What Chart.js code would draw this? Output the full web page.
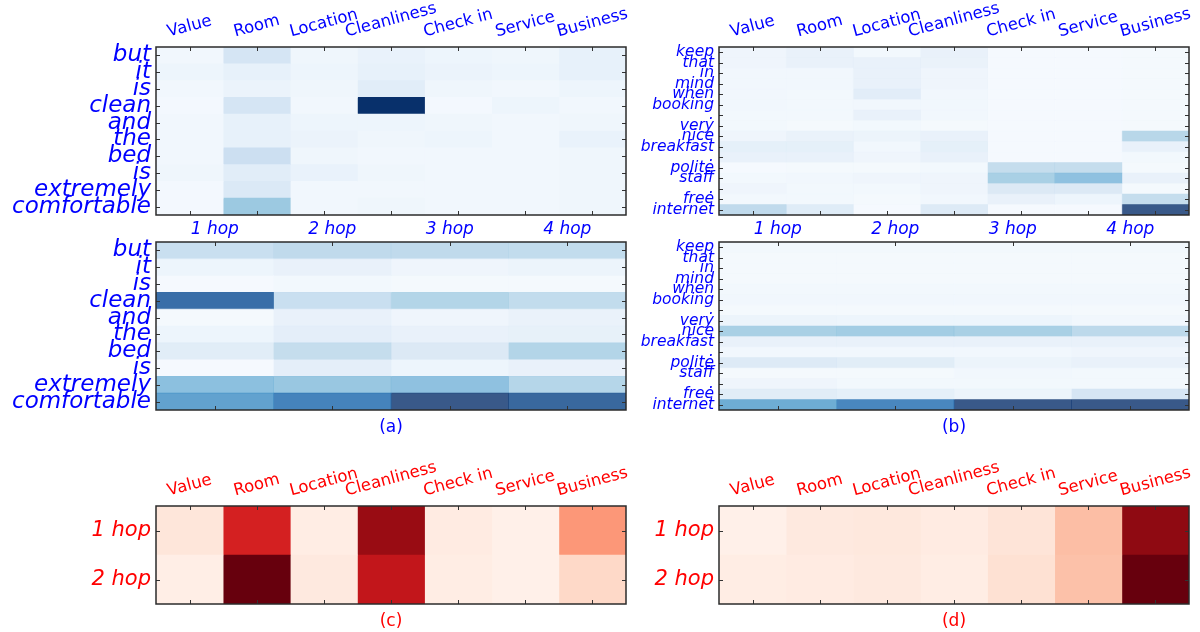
<!DOCTYPE html>
<html>
<head>
<meta charset="utf-8">
<script src="https://cdn.jsdelivr.net/npm/chart.js@4.4.1/dist/chart.umd.min.js"></script>
<style>
  body { margin: 0; background: #fff; }
  #wrap { position: relative; width: 1200px; height: 632px; }
  #wrap canvas { position: absolute; left: 0; top: 0; }
</style>
</head>
<body>
<div id="wrap">
  <canvas id="aspectA" width="1200" height="632"></canvas>
  <canvas id="hopA" width="1200" height="632"></canvas>
  <canvas id="aspectB" width="1200" height="632"></canvas>
  <canvas id="hopB" width="1200" height="632"></canvas>
  <canvas id="scoreC" width="1200" height="632"></canvas>
  <canvas id="scoreD" width="1200" height="632"></canvas>
</div>
<script>
// categories
var aspects = ['Value', 'Room', 'Location', 'Cleanliness', 'Check in', 'Service', 'Business'];
var hops = ['1 hop', '2 hop', '3 hop', '4 hop'];
var hopRows = ['1 hop', '2 hop'];
var sentenceA = ['but', 'it', 'is', 'clean', 'and', 'the', 'bed', 'is', 'extremely', 'comfortable'];
var sentenceB = ['keep', 'that', 'in', 'mind', 'when', 'booking', '.', 'very', 'nice', 'breakfast', '.',
                 'polite', 'staff', '.', 'free', 'internet'];

// (a) word attention per aspect, rows = words of sentenceA
var aspectAttnA = [
  [0.03, 0.17, 0.04, 0.07, 0.05, 0.04, 0.08],
  [0.05, 0.08, 0.05, 0.08, 0.06, 0.05, 0.08],
  [0.03, 0.06, 0.04, 0.11, 0.04, 0.03, 0.05],
  [0.02, 0.17, 0.03, 1.00, 0.02, 0.05, 0.03],
  [0.03, 0.08, 0.05, 0.05, 0.04, 0.03, 0.04],
  [0.03, 0.08, 0.06, 0.04, 0.05, 0.03, 0.07],
  [0.03, 0.22, 0.04, 0.03, 0.03, 0.03, 0.04],
  [0.04, 0.11, 0.07, 0.04, 0.03, 0.03, 0.04],
  [0.02, 0.14, 0.03, 0.03, 0.03, 0.03, 0.04],
  [0.02, 0.38, 0.03, 0.04, 0.03, 0.03, 0.04]
];
// (a) word attention per hop
var hopAttnA = [
  [0.28, 0.32, 0.32, 0.31],
  [0.07, 0.10, 0.06, 0.08],
  [0.02, 0.04, 0.03, 0.03],
  [0.90, 0.28, 0.37, 0.31],
  [0.03, 0.10, 0.06, 0.09],
  [0.07, 0.13, 0.10, 0.11],
  [0.15, 0.30, 0.18, 0.37],
  [0.02, 0.13, 0.07, 0.10],
  [0.49, 0.45, 0.48, 0.36],
  [0.65, 0.80, 1.00, 0.93]
];
// (b) word attention per aspect, rows = words of sentenceB
var aspectAttnB = [
  [0.06, 0.10, 0.04, 0.10, 0.02, 0.02, 0.03],
  [0.06, 0.10, 0.10, 0.09, 0.02, 0.02, 0.03],
  [0.05, 0.05, 0.10, 0.06, 0.02, 0.02, 0.03],
  [0.05, 0.05, 0.10, 0.06, 0.02, 0.02, 0.03],
  [0.05, 0.04, 0.14, 0.05, 0.02, 0.02, 0.03],
  [0.05, 0.04, 0.05, 0.05, 0.02, 0.02, 0.03],
  [0.04, 0.04, 0.10, 0.05, 0.02, 0.02, 0.03],
  [0.04, 0.03, 0.04, 0.03, 0.02, 0.02, 0.03],
  [0.06, 0.09, 0.08, 0.10, 0.02, 0.02, 0.35],
  [0.12, 0.12, 0.05, 0.12, 0.02, 0.02, 0.10],
  [0.10, 0.10, 0.06, 0.10, 0.02, 0.02, 0.04],
  [0.02, 0.03, 0.03, 0.04, 0.30, 0.30, 0.03],
  [0.04, 0.05, 0.06, 0.06, 0.40, 0.48, 0.10],
  [0.06, 0.04, 0.04, 0.06, 0.18, 0.18, 0.03],
  [0.04, 0.04, 0.03, 0.05, 0.10, 0.07, 0.30],
  [0.32, 0.16, 0.02, 0.17, 0.02, 0.02, 1.00]
];
// (b) word attention per hop
var hopAttnB = [
  [0.04, 0.04, 0.04, 0.04],
  [0.03, 0.03, 0.03, 0.03],
  [0.03, 0.03, 0.03, 0.03],
  [0.03, 0.03, 0.03, 0.03],
  [0.04, 0.04, 0.04, 0.04],
  [0.05, 0.05, 0.05, 0.05],
  [0.03, 0.03, 0.03, 0.03],
  [0.08, 0.07, 0.07, 0.05],
  [0.40, 0.42, 0.40, 0.33],
  [0.10, 0.10, 0.10, 0.10],
  [0.05, 0.05, 0.05, 0.06],
  [0.17, 0.15, 0.08, 0.10],
  [0.03, 0.03, 0.05, 0.04],
  [0.06, 0.04, 0.04, 0.04],
  [0.15, 0.12, 0.08, 0.22],
  [0.60, 0.78, 1.00, 1.00]
];
// (c) and (d) aspect scores per hop
var aspectScoreC = [
  [0.09, 0.72, 0.05, 0.90, 0.06, 0.03, 0.36],
  [0.04, 1.00, 0.07, 0.78, 0.05, 0.03, 0.15]
];
var aspectScoreD = [
  [0.03, 0.07, 0.08, 0.06, 0.10, 0.24, 0.92],
  [0.05, 0.06, 0.07, 0.05, 0.12, 0.23, 1.00]
];

// colour ramps (matplotlib Blues / Reds)
var blues = ['#f7fbff', '#deebf7', '#c6dbef', '#9ecae1', '#6baed6', '#4292c6', '#2171b5', '#08519c', '#08306b'];
var reds = ['#fff5f0', '#fee0d2', '#fcbba1', '#fc9272', '#fb6a4a', '#ef3b2c', '#cb181d', '#a50f15', '#67000d'];

function hexRgb(h) {
  return [1, 3, 5].map(function (i) { return parseInt(h.slice(i, i + 2), 16); });
}
function shade(ramp, v, alpha) {
  var t = Math.min(Math.max(v, 0), 1) * (ramp.length - 1);
  var i = Math.min(Math.floor(t), ramp.length - 2);
  var f = t - i;
  var a = hexRgb(ramp[i]), b = hexRgb(ramp[i + 1]);
  var c = a.map(function (x, k) { return Math.round(x + (b[k] - x) * f); });
  return 'rgba(' + c[0] + ',' + c[1] + ',' + c[2] + ',' + alpha + ')';
}

var FONT = "'DejaVu Sans', sans-serif";

// frame, inward ticks, column labels and caption
var heatFrame = {
  id: 'heatFrame',
  afterDraw: function (chart, args, o) {
    var ctx = chart.ctx, a = chart.chartArea, x = chart.scales.x, y = chart.scales.y;
    var nRows = chart.data.labels.length;
    ctx.save();
    ctx.strokeStyle = '#333';
    ctx.lineWidth = 1;
    ctx.beginPath();
    o.cols.forEach(function (c, j) {
      var px = Math.round(x.getPixelForValue(j + 0.5)) + 0.5;
      ctx.moveTo(px, a.top); ctx.lineTo(px, a.top + 4);
      ctx.moveTo(px, a.bottom); ctx.lineTo(px, a.bottom - 4);
    });
    for (var i = 0; i < nRows; i++) {
      var py = Math.round(y.getPixelForValue(i)) + 0.5;
      ctx.moveTo(a.left, py); ctx.lineTo(a.left + 4, py);
      ctx.moveTo(a.right, py); ctx.lineTo(a.right - 4, py);
    }
    ctx.stroke();
    ctx.lineWidth = 1.5;
    ctx.strokeStyle = '#2b2b2b';
    ctx.strokeRect(a.left, a.top, a.right - a.left, a.bottom - a.top);

    ctx.fillStyle = o.color;
    ctx.font = (o.colItalic ? 'italic ' : '') + o.colSize + 'px ' + FONT;
    ctx.textAlign = 'center';
    ctx.textBaseline = 'middle';
    var rad = o.rotate * Math.PI / 180;
    o.cols.forEach(function (label, j) {
      var w = ctx.measureText(label).width;
      var boxH = w * Math.sin(rad) + o.colSize * 1.164 * Math.cos(rad);
      ctx.save();
      ctx.translate(x.getPixelForValue(j + 0.5), a.top - o.colGap - boxH / 2);
      ctx.rotate(-rad);
      ctx.fillText(label, 0, 0);
      ctx.restore();
    });
    if (o.caption) {
      ctx.font = '17px ' + FONT;
      ctx.fillText(o.caption, (a.left + a.right) / 2, a.bottom + 17.5);
    }
    ctx.restore();
  }
};

function heatmap(id, rows, cols, values, ramp, alpha, box, style) {
  var datasets = cols.map(function (col, j) {
    return {
      label: col,
      data: rows.map(function () { return 1; }),
      backgroundColor: rows.map(function (r, i) { return shade(ramp, values[i][j], alpha); }),
      borderWidth: 0,
      barPercentage: 1,
      categoryPercentage: 1
    };
  });
  return new Chart(document.getElementById(id), {
    type: 'bar',
    data: { labels: rows, datasets: datasets },
    plugins: [heatFrame],
    options: {
      indexAxis: 'y',
      responsive: false,
      animation: false,
      devicePixelRatio: 1,
      events: [],
      layout: { padding: { left: box.padLeft, top: box.top, right: 1200 - box.right, bottom: 632 - box.bottom } },
      scales: {
        x: { type: 'linear', min: 0, max: cols.length, stacked: true, display: false },
        y: {
          type: 'category',
          stacked: true,
          offset: true,
          grid: { display: false, drawTicks: false },
          border: { display: false },
          ticks: {
            autoSkip: false,
            padding: 5,
            color: style.color,
            font: { family: FONT, size: style.rowSize, style: 'italic' }
          },
          afterFit: function (s) { s.width = box.left - box.padLeft; }
        }
      },
      plugins: {
        legend: { display: false },
        tooltip: { enabled: false },
        heatFrame: {
          cols: cols, color: style.color, colSize: style.colSize, colItalic: style.colItalic,
          rotate: style.rotate, colGap: style.rotate ? 5.3 : 2.5, caption: style.caption
        }
      }
    }
  });
}

var leftTop = { padLeft: 0, left: 156, right: 626, top: 47, bottom: 215 };
var leftMid = { padLeft: 0, left: 156, right: 626, top: 242, bottom: 410 };
var rightTop = { padLeft: 640, left: 719, right: 1189, top: 47, bottom: 215 };
var rightMid = { padLeft: 640, left: 719, right: 1189, top: 242, bottom: 410 };
var leftLow = { padLeft: 0, left: 156, right: 626, top: 506, bottom: 604 };
var rightLow = { padLeft: 640, left: 719, right: 1189, top: 506, bottom: 604 };

heatmap('aspectA', sentenceA, aspects, aspectAttnA, blues, 1, leftTop,
  { color: '#0000ff', rowSize: 23, colSize: 16.5, colItalic: false, rotate: 15 });
heatmap('hopA', sentenceA, hops, hopAttnA, blues, 0.8, leftMid,
  { color: '#0000ff', rowSize: 23, colSize: 17, colItalic: true, rotate: 0, caption: '(a)' });
heatmap('aspectB', sentenceB, aspects, aspectAttnB, blues, 0.8, rightTop,
  { color: '#0000ff', rowSize: 15.5, colSize: 16.5, colItalic: false, rotate: 15 });
heatmap('hopB', sentenceB, hops, hopAttnB, blues, 0.8, rightMid,
  { color: '#0000ff', rowSize: 15.5, colSize: 17, colItalic: true, rotate: 0, caption: '(b)' });
heatmap('scoreC', hopRows, aspects, aspectScoreC, reds, 1, leftLow,
  { color: '#ff0000', rowSize: 21, colSize: 16.5, colItalic: false, rotate: 15, caption: '(c)' });
heatmap('scoreD', hopRows, aspects, aspectScoreD, reds, 1, rightLow,
  { color: '#ff0000', rowSize: 21, colSize: 16.5, colItalic: false, rotate: 15, caption: '(d)' });
</script>
</body>
</html>
